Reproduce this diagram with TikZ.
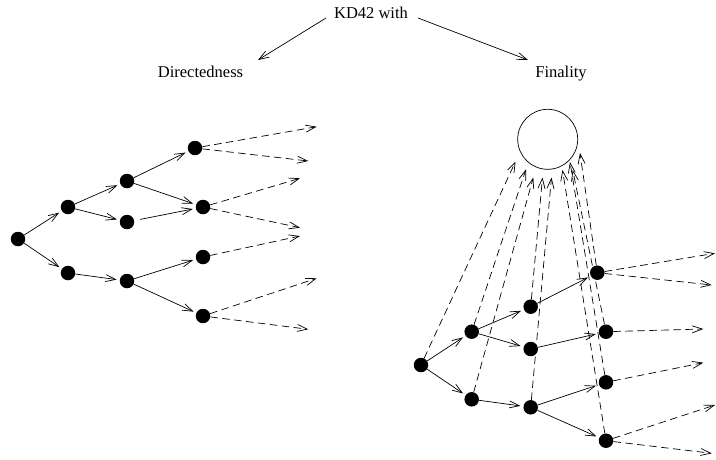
\documentclass[tikz,border=0pt]{standalone}
\usepackage{fontspec}
\setmainfont{Liberation Serif}
\usetikzlibrary{arrows.meta}
\begin{document}
\begin{tikzpicture}[x=1pt,y=-1pt,
  dot/.style={circle,fill=black,draw=none,minimum size=14.5pt,inner sep=0pt},
  lbl/.style={anchor=base,inner sep=0pt,font=\fontsize{16.5}{19}\selectfont},
  edge/.style={line width=0.7pt,-{Straight Barb[length=10pt,width=7pt]},shorten >=3pt},
  dedge/.style={line width=0.7pt,dash pattern=on 7.5pt off 4.5pt,-{Straight Barb[length=10pt,width=7pt]}},
  ]
\useasboundingbox (0,0) rectangle (716,459);
% title and labels
\node[lbl] (title) at (371,18.5) {KD42 with};
\node[lbl] (dir) at (200.5,77.5) {Directedness};
\node[lbl] (fin) at (561,77.5) {Finality};
\coordinate (ta1) at (326,18);
\coordinate (ta2) at (258,60);
\coordinate (tb1) at (418,18);
\coordinate (tb2) at (528,60);
\draw[line width=0.7pt,-{Straight Barb[length=10pt,width=7pt]}] (ta1) -- (ta2);
\draw[line width=0.7pt,-{Straight Barb[length=10pt,width=7pt]}] (tb1) -- (tb2);

% left tree
\node[dot] (l0) at (18,239) {};
\node[dot] (la1) at (68,207) {};
\node[dot] (la2) at (68,273) {};
\node[dot] (lb1) at (127,181) {};
\node[dot] (lb2) at (127,222) {};
\node[dot] (lb3) at (127,281) {};
\node[dot] (lc1) at (195,148) {};
\node[dot] (lc2) at (203,207) {};
\node[dot] (lc3) at (203,257) {};
\node[dot] (lc4) at (203,316) {};
\draw[edge] (l0) -- (la1);
\draw[edge] (l0) -- (la2);
\draw[edge] (la1) -- (lb1);
\draw[edge] (la1) -- (lb2);
\draw[edge] (la2) -- (lb3);
\draw[edge] (lb1) -- (lc1);
\draw[edge] (lb1) -- (lc2);
\draw[edge,shorten <=6pt] (lb2) -- (lc2);
\draw[edge] (lb3) -- (lc3);
\draw[edge] (lb3) -- (lc4);
\coordinate (le1) at (316.7,126.7);
\coordinate (le2) at (308.3,161);
\coordinate (le3) at (300,178.3);
\coordinate (le4) at (300,227.7);
\coordinate (le5) at (300,236);
\coordinate (le6) at (316.7,278.3);
\coordinate (le7) at (308.3,329.3);
\draw[dedge] (lc1) -- (le1);
\draw[dedge] (lc1) -- (le2);
\draw[dedge] (lc2) -- (le3);
\draw[dedge] (lc2) -- (le4);
\draw[dedge] (lc3) -- (le5);
\draw[dedge] (lc4) -- (le6);
\draw[dedge] (lc4) -- (le7);

% right figure
\node[circle,draw,line width=0.7pt,minimum size=60pt,inner sep=0pt] (goal) at (547.7,139.3) {};
\node[dot] (r0) at (421,365) {};
\node[dot] (r1) at (471.7,331.7) {};
\node[dot] (r2) at (471.7,399.3) {};
\node[dot] (s1) at (530.7,306.7) {};
\node[dot] (s2) at (530.7,349) {};
\node[dot] (s3) at (530.7,407.3) {};
\node[dot] (t1) at (597.3,272.7) {};
\node[dot] (t2) at (606,331.7) {};
\node[dot] (t3) at (606,382.3) {};
\node[dot] (t4) at (606,440.7) {};
\draw[edge] (r0) -- (r1);
\draw[edge] (r0) -- (r2);
\draw[edge] (r1) -- (s1);
\draw[edge] (r1) -- (s2);
\draw[edge] (r2) -- (s3);
\draw[edge] (s1) -- (t1);
\draw[edge] (s2) -- (t2);
\draw[edge] (s3) -- (t3);
\draw[edge] (s3) -- (t4);
% dashed lines to the circle
\coordinate (f1) at (515.5,161.5);
\coordinate (f2) at (526,169.3);
\coordinate (f3) at (533.3,177.5);
\coordinate (f4) at (542.5,177.5);
\coordinate (f5) at (551.5,177.5);
\coordinate (f6) at (562.5,170);
\coordinate (f7) at (570,162);
\coordinate (f8) at (572.7,170);
\coordinate (f9) at (580,153);
\draw[dedge] (r0) -- (f1);
\draw[dedge] (r1) -- (f2);
\draw[dedge] (r2) -- (f3);
\draw[dedge] (s1) -- (f4);
\draw[dedge] (s3) -- (f5);
\draw[dedge] (t4) -- (f6);
\draw[dedge] (t3) -- (f7);
\draw[dedge] (t2) -- (f8);
\draw[dedge] (t1) -- (f9);
% dashed lines to the right
\coordinate (re1) at (715,253.3);
\coordinate (re2) at (711.7,285);
\coordinate (re3) at (703.3,329);
\coordinate (re4) at (703.3,362.7);
\coordinate (re5) at (715,405);
\coordinate (re6) at (711.7,453.3);
\draw[dedge] (t1) -- (re1);
\draw[dedge] (t1) -- (re2);
\draw[dedge] (t2) -- (re3);
\draw[dedge] (t3) -- (re4);
\draw[dedge] (t4) -- (re5);
\draw[dedge] (t4) -- (re6);
\end{tikzpicture}
\end{document}
